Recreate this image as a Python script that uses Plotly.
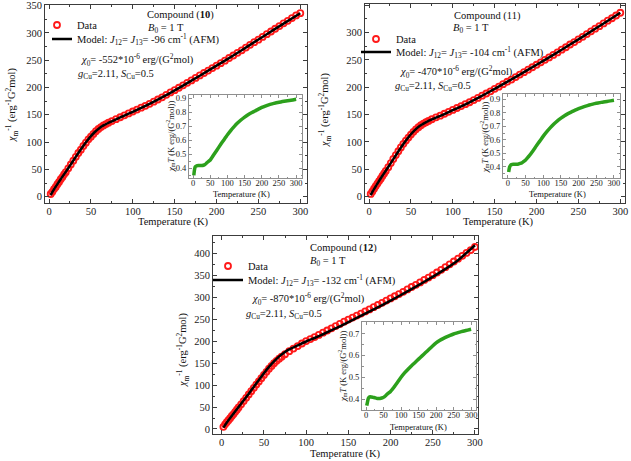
import plotly.graph_objects as go

W, H = 631, 461
FONT = "Liberation Serif"
AX = "#3c3c3c"
INAX = "#8f8f8f"
RED = "#ff1a1a"
GREEN = "#2ca01c"

def px(x):
    return x / W

def py(y):
    return 1 - y / H

# ---------------- data ----------------
T_data = [2, 4, 6, 8, 10, 12, 14, 16, 18, 20,
          23, 26, 29, 32, 35, 38, 41, 44, 47, 50, 53, 56, 59, 62, 65, 68, 71,
          75,
          80, 85, 90, 95, 100, 105, 110, 115, 120, 125, 130, 135, 140, 145, 150,
          155, 160, 165, 170, 175, 180, 185, 190, 195, 200, 205, 210, 215, 220,
          225, 230, 235, 240, 245, 250, 255, 260, 265, 270, 275, 280, 285, 290,
          295, 300]

inv_chi_10 = [5, 9, 14, 18, 23, 27, 32, 36, 41, 45,
              52, 59, 66, 73, 80, 86, 93, 99, 105, 110, 115, 120, 124, 127.5, 130.5, 133, 135.5,
              138.5,
              142, 145.5, 149, 152.5, 156, 159.5, 163, 166.5, 170, 174, 178, 182, 186.5, 191, 195,
              199.5, 204, 208.5, 213, 217.5, 222, 226.5, 231, 235.5, 240, 244.5, 249, 254, 258.5,
              263.5, 268, 273, 278, 283, 287.5, 292.5, 297.5, 302.5, 307.5, 312.5, 317.5, 322, 327,
              332, 336]

inv_chi_11 = [5, 9.5, 14.5, 19.5, 24, 28.5, 33, 38, 42.5, 47,
              54, 61.5, 69, 76, 83, 90, 96.5, 102.5, 108, 113.5, 118.5, 123, 127, 130.5, 133.5, 136, 138.5,
              141.5,
              145, 148, 151.5, 155, 158.5, 162, 165.5, 169, 172.5, 176.5, 180.5, 184.5, 188.5, 192.5, 197,
              201, 205.5, 210, 214, 218.5, 223, 227.5, 232, 236.5, 241, 245.5, 250, 254.5, 259,
              263.5, 268.5, 273, 278, 282.5, 287.5, 292, 297, 302, 307, 311.5, 316.5, 321.5, 326,
              331, 336]

inv_chi_12 = [5, 10.5, 15.5, 20, 24.5, 29.5, 34, 39, 44, 49,
              56, 63.5, 71, 78.5, 86, 93.5, 101, 108, 115.5, 123, 130, 137, 143.5, 149.5, 155, 160, 164.5,
              170,
              177, 183, 188.5, 194.5, 200, 204.5, 209, 214, 219, 224, 229, 234, 239, 244, 249,
              253.5, 258, 262.5, 267.5, 272, 277, 282, 287, 292, 297, 302, 307, 312, 317.5,
              323, 328, 333.5, 339, 344.5, 350, 356, 362, 368, 374.5, 381, 387.5, 394, 400.5,
              407, 414]

T_model = [2, 5, 10, 15, 20, 25, 30, 35, 40, 45, 50, 55, 60, 65, 70, 75, 80, 90,
           100, 110, 120, 140, 160, 180, 200, 220, 240, 260, 280, 300]

model_10 = [3, 11, 23, 34.5, 45.5, 57, 68.5, 80, 91, 101.5, 111, 119, 125.5, 130.5, 134.5, 138, 141.5, 148.5,
            155.5, 162.5, 170, 186, 203.5, 221.5, 240, 258.5, 278, 297.5, 317, 336]
model_11 = [3, 11.5, 24, 36, 47.5, 59, 71, 82.5, 94, 104.5, 114, 122, 128.5, 133.5, 137.5, 141, 144.5, 151,
            158, 165, 172.5, 188.5, 205.5, 223, 241, 259, 278, 297, 316.5, 336]
model_12 = [3, 12, 25, 37.5, 50, 62.5, 75, 88, 101, 114, 127, 139, 150, 159.5, 168, 175, 181, 190,
            199, 207, 215.5, 233.5, 252.5, 272, 292, 313, 335, 358, 384, 418]

T_inset = [2, 4, 6, 8, 10, 15, 20, 25, 30, 35, 40, 45, 50, 55, 60,
           70, 80, 90, 100, 110, 120, 130, 140, 150, 160, 170, 180, 190, 200,
           210, 220, 230, 240, 250, 260, 270, 280, 290, 300]

chiT_10 = [0.35, 0.39, 0.41, 0.415, 0.418, 0.42, 0.42, 0.42, 0.422, 0.428, 0.44, 0.45, 0.46, 0.478, 0.497,
           0.533, 0.57, 0.605, 0.64, 0.672, 0.70, 0.725, 0.747, 0.766, 0.783, 0.797, 0.81, 0.823, 0.835,
           0.845, 0.854, 0.861, 0.867, 0.872, 0.877, 0.881, 0.885, 0.889, 0.893]
chiT_11 = [0.36, 0.39, 0.405, 0.412, 0.415, 0.418, 0.418, 0.418, 0.42, 0.424, 0.43, 0.44, 0.45, 0.465, 0.48,
           0.515, 0.553, 0.59, 0.627, 0.66, 0.69, 0.717, 0.741, 0.761, 0.779, 0.794, 0.807, 0.82, 0.831,
           0.841, 0.85, 0.858, 0.865, 0.871, 0.876, 0.881, 0.885, 0.889, 0.893]
chiT_12 = [0.37, 0.385, 0.40, 0.407, 0.41, 0.41, 0.408, 0.406, 0.404, 0.403, 0.403, 0.405, 0.408, 0.414, 0.422,
           0.435, 0.455, 0.477, 0.50, 0.52, 0.537, 0.553, 0.568, 0.583, 0.598, 0.613, 0.628, 0.643, 0.657,
           0.668, 0.677, 0.685, 0.692, 0.698, 0.703, 0.708, 0.712, 0.716, 0.72]

compounds = ["10", "11", "12"]
J_values = ["-96", "-104", "-132"]
chi0_values = ["-552", "-470", "-870"]
g_value = "2.11"
S_value = "0.5"

# ---------------- layout geometry ----------------
main_boxes = [(45, 307, 5, 203), (365, 625, 4, 203), (213, 478, 236, 434)]
main_xr = [[-4.8, 308], [-4.8, 305.6], [-10.3, 303.6]]
main_yr = [[-11.5, 351], [-11.5, 352], [-11.4, 439]]

inset_boxes = [(189, 302, 95, 178), (503, 620, 94, 178), (362, 476, 322, 410)]
inset_xr = [[-12, 317], [-14, 317], [-11.5, 314]]
inset_yr = [[0.331, 0.924], [0.316, 0.94], [0.35, 0.753]]

data_series = [inv_chi_10, inv_chi_11, inv_chi_12]
model_series = [model_10, model_11, model_12]
inset_series = [chiT_10, chiT_11, chiT_12]

# text positions (px)
legend_text_x = [77, 396, 248]
legend_indent = [-15, 0, 0]
legend_data_y = [27, 41, 268]
legend_model_y = [41, 54, 282]
compound_xy = [(145, 15), (452, 16), (308, 248)]
b0_xy = [(146, 28), (451, 29), (308, 261)]
chi0_xy = [(79, 60), (398, 72), (250, 299)]
g_xy = [(76, 74), (393, 86), (244, 314)]
compound_bold = [True, False, True]
main_xtitle_xy = [(173, 222), (499, 222), (345, 454)]
main_ytitle_xy = [(12, 105), (325, 110), (183, 349)]
inset_xtitle_xy = [(241, 194), (557, 194), (418, 427)]
inset_ytitle_xy = [(170, 137), (484, 138), (342, 367)]

tickfont_main = dict(family=FONT, size=10.5, color="#222")
tickfont_in = dict(family=FONT, size=8.5, color="#222")

Y_MAIN = "<i>χ</i><sub>m</sub><sup>-1</sup> (erg<sup>-1</sup>G<sup>2</sup>mol)"
Y_INSET = "<i>χ</i><sub>m</sub><i>T</i> (K erg/(G<sup>2</sup>mol))"

fig = go.Figure()
layout = dict(
    width=W, height=H,
    margin=dict(l=0, r=0, t=0, b=0, autoexpand=False),
    paper_bgcolor="white", plot_bgcolor="white",
    font=dict(family=FONT, size=10.5, color="#111"),
    showlegend=True,
)

annotations = []

def add_text(xy, txt, size=10.5, angle=0, xanchor="left"):
    annotations.append(dict(
        x=px(xy[0]), y=py(xy[1]), xref="paper", yref="paper", text=txt,
        showarrow=False, xanchor=xanchor, yanchor="middle", textangle=angle,
        font=dict(family=FONT, size=size, color="#111"),
    ))

for i in range(3):
    n = i + 1
    xa = "xaxis" if n == 1 else f"xaxis{n}"
    ya = "yaxis" if n == 1 else f"yaxis{n}"
    xr = "x" if n == 1 else f"x{n}"
    yr = "y" if n == 1 else f"y{n}"
    l, r, t, b = main_boxes[i]
    layout[xa] = dict(
        domain=[px(l), px(r)], range=main_xr[i], anchor=yr,
        showline=True, linecolor=AX, linewidth=1, mirror="ticks",
        ticks="inside", ticklen=4, tickcolor=AX, tick0=0, dtick=50,
        minor=dict(dtick=25, ticks="inside", ticklen=2, tickcolor=AX),
        showgrid=False, zeroline=False, tickfont=tickfont_main, ticklabelstandoff=-2,
    )
    layout[ya] = dict(
        domain=[py(b), py(t)], range=main_yr[i], anchor=xr,
        showline=True, linecolor=AX, linewidth=1, mirror="ticks",
        ticks="inside", ticklen=4, tickcolor=AX, tick0=0, dtick=50,
        minor=dict(dtick=25, ticks="inside", ticklen=2, tickcolor=AX),
        showgrid=False, zeroline=False, tickfont=tickfont_main,
    )

    # inset axes
    m = i + 4
    ixa, iya, ixr, iyr = f"xaxis{m}", f"yaxis{m}", f"x{m}", f"y{m}"
    il, ir, it, ib = inset_boxes[i]
    layout[ixa] = dict(
        domain=[px(il), px(ir)], range=inset_xr[i], anchor=iyr,
        showline=True, linecolor=INAX, linewidth=1, mirror="ticks",
        ticks="inside", ticklen=3, tickcolor=INAX, tick0=0, dtick=50,
        minor=dict(dtick=25, ticks="inside", ticklen=1.5, tickcolor=INAX),
        showgrid=False, zeroline=False, tickfont=tickfont_in, ticklabelstandoff=-3,
    )
    layout[iya] = dict(
        domain=[py(ib), py(it)], range=inset_yr[i], anchor=ixr,
        showline=True, linecolor=INAX, linewidth=1, mirror="ticks",
        ticks="inside", ticklen=3, tickcolor=INAX, dtick=0.1,
        minor=dict(dtick=0.05, ticks="inside", ticklen=1.5, tickcolor=INAX),
        showgrid=False, zeroline=False, tickfont=tickfont_in,
    )

    leg_d = "legend" if i == 0 else f"legend{2 * i + 1}"
    leg_m = f"legend{2 * i + 2}"
    ind = legend_indent[i]
    for key, yy in ((leg_d, legend_data_y[i] - 2), (leg_m, legend_model_y[i] - 2)):
        layout[key] = dict(
            x=px(legend_text_x[i] - 40 - ind), y=py(yy),
            xanchor="left", yanchor="middle", indentation=ind,
            bgcolor="rgba(0,0,0,0)", borderwidth=0, itemwidth=30,
            font=dict(family=FONT, size=10.5, color="#111"),
        )

    fig.add_trace(go.Scatter(
        x=T_data, y=data_series[i], mode="markers", name="Data",
        marker=dict(symbol="circle-open", size=6, color=RED, line=dict(width=1.8, color=RED)),
        xaxis=xr, yaxis=yr, legend=leg_d,
    ))
    fig.add_trace(go.Scatter(
        x=T_model, y=model_series[i], mode="lines",
        name=f"Model: <i>J</i><sub>12</sub>= <i>J</i><sub>13</sub>= {J_values[i]} cm<sup>-1</sup> (AFM)",
        line=dict(color="black", width=2.5, shape="spline", smoothing=0.6),
        xaxis=xr, yaxis=yr, legend=leg_m,
    ))
    fig.add_trace(go.Scatter(
        x=T_inset, y=inset_series[i], mode="lines", showlegend=False,
        line=dict(color=GREEN, width=3.5, shape="spline", smoothing=0.5),
        xaxis=ixr, yaxis=iyr,
    ))

    comp_num = f"<b>{compounds[i]}</b>" if compound_bold[i] else compounds[i]
    add_text(compound_xy[i], f"Compound ({comp_num})")
    add_text(b0_xy[i], "<i>B</i><sub>0</sub> = 1 T")
    add_text(chi0_xy[i], f"<i>χ</i><sub>0</sub>= {chi0_values[i]}*10<sup>-6</sup> erg/(G<sup>2</sup>mol)")
    add_text(g_xy[i], f"<i>g</i><sub>Cu</sub>={g_value}, <i>S</i><sub>Cu</sub>={S_value}")
    add_text(main_xtitle_xy[i], "Temperature (K)", xanchor="center")
    add_text(main_ytitle_xy[i], Y_MAIN, angle=-90, xanchor="center")
    add_text(inset_xtitle_xy[i], "Temperature (K)", size=8.5, xanchor="center")
    add_text(inset_ytitle_xy[i], Y_INSET, size=8.5, angle=-90, xanchor="center")

layout["annotations"] = annotations
fig.update_layout(**layout)
fig.write_html(
    "out.html",
    config={"displayModeBar": False},
    post_script="document.body.style.margin='0';document.body.style.overflow='hidden';",
)
